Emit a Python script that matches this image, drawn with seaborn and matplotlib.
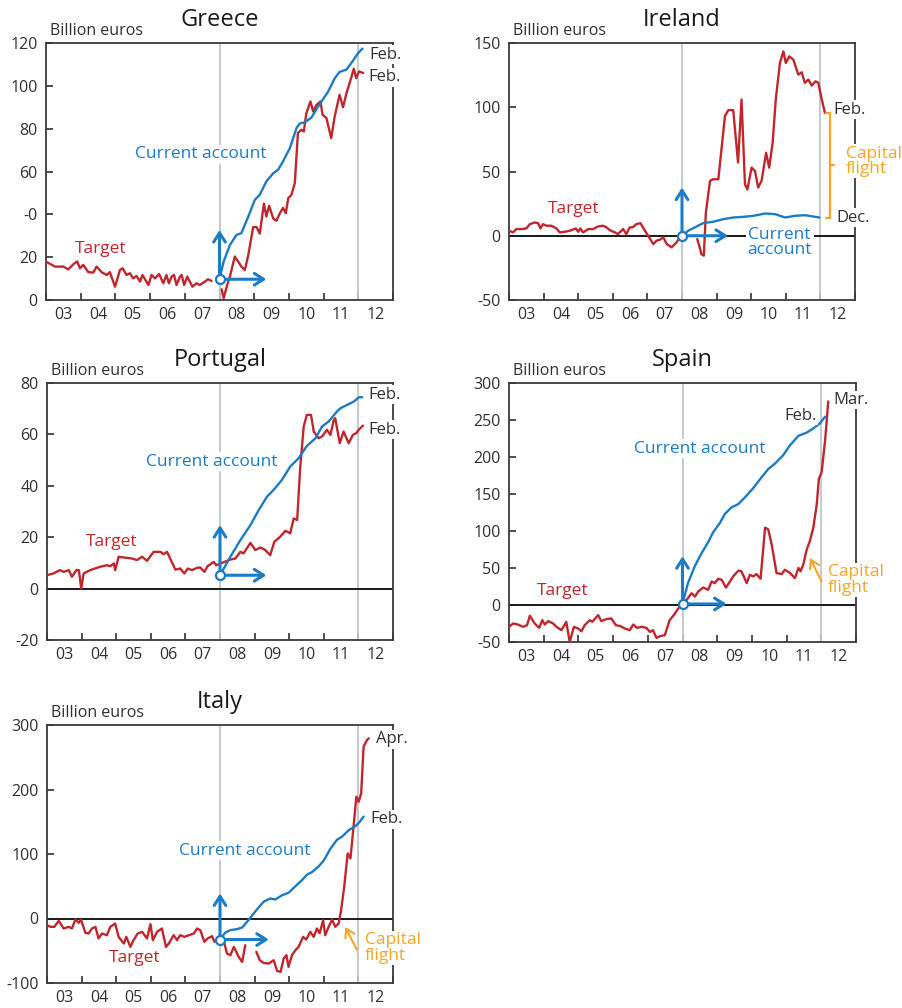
import numpy as np
import matplotlib
matplotlib.use('Agg')
import matplotlib.pyplot as plt
import seaborn as sns

sns.set_theme(style='white')
plt.rcParams['font.family'] = ['Open Sans', 'DejaVu Sans']

RED = '#c0262c'
BLUE = '#1b7bc4'
ORANGE = '#f6a623'
GRAY = '#c2c6cd'
DARK = '#303030'

year_labels = ['03', '04', '05', '06', '07', '08', '09', '10', '11', '12']

# ---------------- Greece ----------------
gr_t1_x = [2003.00, 2003.26, 2003.50, 2003.64, 2003.81, 2003.90, 2003.98, 2004.07, 2004.22, 2004.36,
           2004.46, 2004.60, 2004.75, 2004.84, 2004.99, 2005.13, 2005.21, 2005.32, 2005.42, 2005.51,
           2005.61, 2005.71, 2005.78, 2005.95, 2006.04, 2006.14, 2006.26, 2006.38, 2006.47, 2006.54,
           2006.62, 2006.69, 2006.76, 2006.86, 2006.91, 2006.98, 2007.07, 2007.22, 2007.34, 2007.43,
           2007.58, 2007.67, 2007.77]
gr_t1_y = [17.9, 15.6, 15.6, 14.3, 17.0, 18.0, 14.8, 16.4, 13.0, 12.8, 15.6, 13.0, 11.7, 13.0, 6.2,
           14.0, 14.8, 11.7, 12.5, 10.1, 11.2, 8.6, 11.7, 7.0, 11.7, 10.1, 12.1, 7.8, 11.7, 7.8, 10.9,
           11.7, 7.0, 10.9, 11.7, 7.0, 10.9, 6.2, 7.8, 7.0, 8.6, 9.7, 8.9]
gr_t2_x = [2008.06, 2008.12, 2008.22, 2008.30, 2008.44, 2008.54, 2008.63, 2008.73, 2008.83, 2008.97,
           2009.07, 2009.16, 2009.28, 2009.35, 2009.43, 2009.55, 2009.64, 2009.74, 2009.83, 2009.91,
           2009.98, 2010.07, 2010.17, 2010.26, 2010.36, 2010.43, 2010.50, 2010.62, 2010.70, 2010.79,
           2010.91, 2010.97, 2011.08, 2011.22, 2011.32, 2011.46, 2011.56, 2011.66, 2011.80, 2011.87,
           2011.94, 2012.02, 2012.14]
gr_t2_y = [5.0, 0.8, 7.0, 10.9, 20.3, 17.9, 15.6, 14.0, 21.0, 34.0, 34.0, 31.0, 45.0, 39.0, 44.0,
           38.0, 37.0, 40.5, 43.0, 40.5, 47.5, 49.0, 54.5, 78.0, 79.5, 78.7, 87.0, 92.7, 88.0, 91.0,
           92.7, 86.5, 85.0, 75.6, 85.7, 95.8, 90.0, 96.6, 104.0, 108.0, 103.6, 106.7, 106.0]
gr_ca_x = [2008.0, 2008.12, 2008.30, 2008.49, 2008.63, 2008.83, 2009.02, 2009.16, 2009.35, 2009.55,
           2009.69, 2009.83, 2010.03, 2010.22, 2010.31, 2010.46, 2010.65, 2010.79, 2010.94, 2011.13,
           2011.32, 2011.46, 2011.66, 2011.85, 2011.99, 2012.12]
gr_ca_y = [9.7, 18.0, 25.7, 30.4, 31.2, 39.0, 46.8, 49.1, 55.4, 59.2, 60.8, 64.7, 71.0, 80.3, 82.4,
           83.0, 85.2, 89.0, 92.7, 97.3, 103.5, 106.5, 107.6, 111.8, 115.2, 117.4]
gr_yticks = [0, 20, 40, 60, 80, 100, 120]
gr_yticklabels = ['0', '20', '-0', '60', '80', '100', '120']

# ---------------- Ireland ----------------
ie_t1_x = [2003.00, 2003.12, 2003.21, 2003.36, 2003.50, 2003.60, 2003.74, 2003.84, 2003.91, 2003.98,
           2004.08, 2004.22, 2004.37, 2004.47, 2004.61, 2004.76, 2004.93, 2005.00, 2005.06, 2005.14,
           2005.29, 2005.43, 2005.57, 2005.72, 2005.82, 2005.91, 2006.06, 2006.15, 2006.30, 2006.39,
           2006.49, 2006.57, 2006.68, 2006.80, 2006.90, 2007.02, 2007.17, 2007.26, 2007.36, 2007.46,
           2007.56, 2007.70, 2007.84, 2007.93]
ie_t1_y = [3.9, 2.6, 5.2, 5.2, 5.7, 9.0, 10.3, 9.8, 5.7, 9.0, 7.8, 7.8, 5.7, 2.6, 3.1, 3.9, 5.7, 3.1,
           5.7, 2.6, 5.2, 5.2, 7.2, 7.8, 6.5, 4.4, 2.6, 1.3, 5.2, 1.3, 6.5, 6.5, 9.0, 9.8, 5.2, 0.0,
           -6.5, -3.9, -3.1, -1.3, -6.5, -9.0, -5.2, -1.5]
ie_t2_x = [2008.44, 2008.50, 2008.56, 2008.63, 2008.69, 2008.81, 2008.90, 2009.05, 2009.14, 2009.24,
           2009.34, 2009.48, 2009.62, 2009.72, 2009.82, 2009.89, 2010.01, 2010.11, 2010.20, 2010.30,
           2010.43, 2010.52, 2010.62, 2010.71, 2010.83, 2010.93, 2011.00, 2011.10, 2011.22, 2011.36,
           2011.46, 2011.55, 2011.65, 2011.75, 2011.86, 2011.94, 2012.04, 2012.13]
ie_t2_y = [-2.6, -7.8, -14.2, -15.5, 18.0, 42.7, 44.0, 44.0, 67.0, 93.0, 97.8, 97.8, 57.0, 106.0,
           40.0, 36.0, 53.0, 50.4, 37.5, 42.7, 64.6, 53.0, 72.4, 106.0, 134.5, 143.5, 134.5, 139.6,
           137.0, 125.4, 127.2, 119.0, 121.5, 116.9, 120.2, 119.0, 106.0, 95.7]
ie_ca_x = [2008.0, 2008.18, 2008.37, 2008.61, 2008.90, 2009.19, 2009.48, 2009.77, 2010.06, 2010.40,
           2010.69, 2010.98, 2011.26, 2011.55, 2011.79, 2011.97]
ie_ca_y = [0.0, 3.9, 6.5, 9.8, 10.9, 12.9, 14.2, 14.7, 15.5, 17.3, 16.8, 14.2, 15.5, 16.0, 15.0, 14.2]
ie_yticks = [-50, 0, 50, 100, 150]

# ---------------- Portugal ----------------
pt_t_x = [2003.00, 2003.19, 2003.37, 2003.48, 2003.63, 2003.72, 2003.85, 2003.92, 2003.99, 2004.06,
          2004.25, 2004.54, 2004.73, 2004.83, 2004.93, 2004.97, 2005.07, 2005.22, 2005.46, 2005.60,
          2005.75, 2005.89, 2006.08, 2006.28, 2006.37, 2006.47, 2006.56, 2006.71, 2006.85, 2006.97,
          2007.07, 2007.19, 2007.34, 2007.43, 2007.55, 2007.64, 2007.82, 2007.89, 2008.13, 2008.30,
          2008.44, 2008.59, 2008.68, 2008.88, 2009.02, 2009.17, 2009.31, 2009.45, 2009.57, 2009.74,
          2009.89, 2010.03, 2010.13, 2010.23, 2010.32, 2010.42, 2010.51, 2010.63, 2010.71, 2010.85,
          2010.95, 2011.09, 2011.19, 2011.29, 2011.33, 2011.46, 2011.57, 2011.72, 2011.84, 2011.94,
          2012.01, 2012.13]
pt_t_y = [5.2, 5.9, 7.2, 6.5, 7.2, 4.6, 7.2, 7.2, 0.0, 5.9, 7.2, 8.5, 9.1, 8.7, 9.8, 7.2, 12.4, 12.1,
          11.7, 11.1, 12.4, 10.8, 14.3, 14.3, 13.4, 14.3, 11.7, 7.4, 7.8, 5.9, 7.8, 7.2, 8.1, 8.2, 6.5,
          8.7, 10.4, 9.1, 10.4, 11.3, 11.7, 14.3, 13.7, 17.8, 15.0, 16.0, 15.0, 13.0, 18.2, 20.2, 22.5,
          21.5, 27.3, 26.7, 47.5, 63.1, 67.6, 67.6, 61.1, 58.5, 59.2, 61.8, 59.8, 65.7, 66.3, 56.6,
          61.1, 56.6, 59.8, 60.5, 61.8, 63.4]
pt_ca_x = [2008.0, 2008.30, 2008.59, 2008.88, 2009.12, 2009.36, 2009.55, 2009.79, 2010.03, 2010.27,
           2010.51, 2010.76, 2010.95, 2011.14, 2011.38, 2011.48, 2011.68, 2011.87, 2012.01, 2012.11]
pt_ca_y = [5.2, 12.4, 18.9, 24.7, 30.6, 35.8, 38.4, 42.3, 47.5, 50.7, 55.5, 58.5, 63.1, 65.0, 68.9,
           70.2, 71.5, 72.8, 74.4, 74.5]
pt_yticks = [-20, 0, 20, 40, 60, 80]

# ---------------- Spain ----------------
es_t_x = [2003.00, 2003.12, 2003.26, 2003.40, 2003.52, 2003.60, 2003.74, 2003.87, 2003.96, 2004.03,
          2004.13, 2004.27, 2004.37, 2004.51, 2004.65, 2004.75, 2004.87, 2004.99, 2005.09, 2005.18,
          2005.33, 2005.40, 2005.57, 2005.66, 2005.81, 2005.95, 2006.08, 2006.19, 2006.34, 2006.48,
          2006.58, 2006.69, 2006.82, 2006.96, 2007.06, 2007.15, 2007.25, 2007.37, 2007.49, 2007.63,
          2007.75, 2007.88, 2008.0, 2008.12, 2008.26, 2008.36, 2008.45, 2008.60, 2008.74, 2008.84,
          2008.93, 2009.03, 2009.13, 2009.25, 2009.37, 2009.46, 2009.61, 2009.70, 2009.85, 2009.94,
          2010.04, 2010.13, 2010.25, 2010.38, 2010.47, 2010.57, 2010.71, 2010.86, 2010.95, 2011.10,
          2011.24, 2011.34, 2011.40, 2011.48, 2011.58, 2011.67, 2011.77, 2011.87, 2011.93, 2012.01,
          2012.11, 2012.15, 2012.20]
es_t_y = [-29.5, -25.0, -26.4, -29.5, -27.3, -14.5, -25.0, -30.9, -20.5, -26.4, -21.8, -25.0, -29.5,
          -34.0, -22.7, -50.0, -29.5, -31.8, -35.5, -27.3, -20.5, -22.7, -13.6, -21.8, -19.0, -18.2,
          -27.3, -28.2, -31.8, -34.0, -26.4, -30.9, -29.5, -30.9, -36.4, -34.0, -44.5, -41.8, -40.9,
          -20.5, -13.6, -4.5, 1.4, 6.8, 15.9, 11.4, 18.2, 23.6, 20.5, 31.8, 29.5, 35.5, 34.0, 23.6,
          31.8, 38.6, 46.4, 45.5, 29.5, 40.9, 38.6, 41.8, 35.5, 104.5, 102.3, 81.8, 43.2, 41.8, 47.7,
          43.2, 36.4, 50.0, 45.5, 54.5, 75.0, 86.4, 104.5, 136.4, 170.5, 179.5, 222.7, 245.5, 275.0]
es_ca_x = [2008.0, 2008.16, 2008.36, 2008.55, 2008.74, 2008.88, 2009.08, 2009.22, 2009.41, 2009.61,
           2009.80, 2010.04, 2010.28, 2010.47, 2010.66, 2010.90, 2011.10, 2011.34, 2011.58, 2011.77,
           2011.96, 2012.11]
es_ca_y = [1.4, 30.0, 53.0, 70.0, 85.0, 98.0, 111.0, 123.0, 131.8, 136.4, 145.5, 158.0, 172.7, 183.6,
           190.9, 202.3, 215.9, 228.6, 233.0, 238.6, 245.5, 254.5]
es_yticks = [-50, 0, 50, 100, 150, 200, 250, 300]

# ---------------- Italy ----------------
it_t1_x = [2003.00, 2003.10, 2003.21, 2003.34, 2003.48, 2003.63, 2003.72, 2003.82, 2003.92, 2003.98,
           2004.11, 2004.20, 2004.30, 2004.40, 2004.49, 2004.59, 2004.73, 2004.83, 2004.97, 2005.07,
           2005.22, 2005.29, 2005.41, 2005.50, 2005.62, 2005.75, 2005.89, 2005.99, 2006.06, 2006.18,
           2006.32, 2006.44, 2006.52, 2006.66, 2006.76, 2006.85, 2006.97, 2007.10, 2007.24, 2007.34,
           2007.43, 2007.55, 2007.64, 2007.77, 2007.84]
it_t1_y = [-10.3, -12.9, -12.9, -3.6, -15.5, -12.9, -15.5, -1.6, -6.7, -1.6, -22.2, -23.3, -15.5,
           -12.9, -31.0, -23.3, -25.9, -12.9, -7.8, -28.5, -38.8, -28.5, -44.0, -33.6, -23.3, -20.7,
           -31.0, -8.8, -33.6, -20.7, -15.5, -44.0, -38.8, -25.9, -33.6, -25.9, -28.5, -25.9, -23.3,
           -15.5, -18.1, -36.2, -31.0, -27.4, -36.2]
it_t2_x = [2008.13, 2008.20, 2008.30, 2008.40, 2008.54, 2008.64, 2008.73]
it_t2_y = [-38.8, -54.3, -56.9, -44.0, -59.5, -67.3, -41.4]
it_t3_x = [2009.05, 2009.15, 2009.26, 2009.41, 2009.55, 2009.65, 2009.75, 2009.84, 2009.92, 2009.98,
           2010.08, 2010.18, 2010.27, 2010.40, 2010.49, 2010.61, 2010.71, 2010.80, 2010.88, 2010.98,
           2011.04, 2011.14, 2011.24, 2011.33, 2011.43, 2011.50, 2011.59, 2011.69, 2011.77, 2011.86,
           2011.94, 2012.01, 2012.08, 2012.15, 2012.25, 2012.30]
it_t3_y = [-51.7, -64.7, -68.8, -69.8, -64.7, -81.2, -82.8, -62.1, -56.9, -75.0, -56.9, -49.1, -44.0,
           -28.5, -32.6, -20.7, -28.5, -15.5, -22.8, -2.6, -25.9, -12.9, -1.6, -12.9, -7.8, 12.9, 49.1,
           100.9, 93.1, 142.3, 188.8, 181.0, 194.0, 266.4, 276.8, 279.3]
it_ca_x = [2008.0, 2008.15, 2008.30, 2008.49, 2008.64, 2008.83, 2009.02, 2009.26, 2009.45, 2009.60,
           2009.79, 2009.98, 2010.18, 2010.37, 2010.51, 2010.66, 2010.85, 2011.00, 2011.19, 2011.38,
           2011.53, 2011.72, 2011.91, 2012.04, 2012.15]
it_ca_y = [-32.6, -22.0, -18.0, -16.5, -14.0, -2.0, 11.0, 26.0, 31.0, 29.5, 36.0, 39.8, 50.0, 59.5,
           67.8, 72.0, 80.7, 90.0, 108.0, 122.0, 127.0, 137.0, 143.0, 150.0, 158.0]
it_yticks = [-100, 0, 100, 200, 300]

W, H = 902, 1008
fig = plt.figure(figsize=(W / 100, H / 100), dpi=100)
fig.patch.set_facecolor('white')

BOX = dict(facecolor='white', edgecolor='none', pad=1.0)


def px_rect(l, t, r, b):
    return [l / W, 1 - b / H, (r - l) / W, (b - t) / H]


def make_axes(rect, title, ylim, yticks, yticklabels=None, zero=True):
    ax = fig.add_axes(px_rect(*rect))
    ax.set_xlim(2003, 2013)
    ax.set_ylim(*ylim)
    ax.set_xticks(range(2003, 2014))
    ax.set_xticklabels([])
    ax.set_xticks(np.arange(2003.5, 2013, 1.0), minor=True)
    ax.set_xticklabels(year_labels, minor=True)
    ax.set_yticks(yticks)
    ax.set_yticklabels(yticklabels if yticklabels else [str(v) for v in yticks])
    ax.tick_params(axis='x', which='major', direction='in', length=5, width=1.2, color=DARK,
                   bottom=True, top=False)
    ax.tick_params(axis='x', which='minor', length=0, pad=5, labelsize=11.5, labelcolor=DARK,
                   bottom=True)
    ax.tick_params(axis='y', direction='in', length=5, width=1.2, color=DARK, left=True,
                   pad=6, labelsize=11.5, labelcolor=DARK)
    for s in ax.spines.values():
        s.set_visible(True)
        s.set_color('#3a3a3a')
        s.set_linewidth(1.3)
    ax.axvline(2008, color=GRAY, lw=1.3, zorder=1)
    ax.axvline(2012, color=GRAY, lw=1.3, zorder=1)
    if zero:
        ax.axhline(0, color='#1a1a1a', lw=1.4, zorder=1.5)
    ax.text(0.5, 1.09, title, transform=ax.transAxes, ha='center', va='center', fontsize=17,
            color='#1a1a1a')
    ax.text(0.012, 1.045, 'Billion euros', transform=ax.transAxes, ha='left', va='center',
            fontsize=11.5, color=DARK)
    ax.set_xlabel('')
    ax.set_ylabel('')
    return ax


def lines(ax, target_segments, ca_x, ca_y):
    for xs, ys in target_segments:
        sns.lineplot(x=xs, y=ys, ax=ax, color=RED, lw=1.7, estimator=None, sort=False, zorder=3)
    sns.lineplot(x=ca_x, y=ca_y, ax=ax, color=BLUE, lw=1.7, estimator=None, sort=False, zorder=3)


def origin_arrows(ax, ca_x, ca_y, up_to, right_to):
    x0, y0 = ca_x[0], ca_y[0]
    props = dict(arrowstyle='->,head_length=0.55,head_width=0.35', color=BLUE, lw=2.2,
                 shrinkA=0, shrinkB=0)
    ax.annotate('', xy=(x0, up_to), xytext=(x0, y0), arrowprops=props, zorder=5)
    ax.annotate('', xy=(right_to, y0), xytext=(x0, y0), arrowprops=props, zorder=5)
    ax.plot([x0], [y0], marker='o', ms=6.5, mfc='white', mec=BLUE, mew=1.6, zorder=6)


def label(ax, x, y, s, color, ha='center', size=12.5):
    ax.text(x, y, s, color=color, ha=ha, va='center', fontsize=size, bbox=BOX, zorder=4,
            clip_on=False, linespacing=0.95)


# Greece
ax = make_axes((46, 43, 393, 300), 'Greece', (0, 120), gr_yticks, gr_yticklabels, zero=False)
lines(ax, [(gr_t1_x, gr_t1_y), (gr_t2_x, gr_t2_y)], gr_ca_x, gr_ca_y)
origin_arrows(ax, gr_ca_x, gr_ca_y, 32.7, 2009.35)
label(ax, 2007.47, 68, 'Current account', BLUE)
label(ax, 2004.58, 23.7, 'Target', RED)
label(ax, 2012.33, 114.5, 'Feb.', DARK, ha='left', size=12)
label(ax, 2012.28, 104, 'Feb.', DARK, ha='left', size=12)

# Ireland
ax = make_axes((509, 43, 855, 300), 'Ireland', (-50, 150), ie_yticks)
lines(ax, [(ie_t1_x, ie_t1_y), (ie_t2_x, ie_t2_y)], ie_ca_x, ie_ca_y)
origin_arrows(ax, ie_ca_x, ie_ca_y, 37.5, 2009.33)
label(ax, 2004.87, 20.7, 'Target', RED)
label(ax, 2009.90, -5.2, 'Current\naccount', BLUE, ha='left')
label(ax, 2012.37, 98, 'Feb.', DARK, ha='left', size=12)
label(ax, 2012.47, 14.2, 'Dec.', DARK, ha='left', size=12)
label(ax, 2012.73, 58, 'Capital\nflight', ORANGE, ha='left')
top, bot = ie_t2_y[-1], ie_ca_y[-1]
bx, bl, br = 2012.29, 2012.16, 2012.38
ax.plot([bl, bx, bx, bl], [top, top, bot, bot], color=ORANGE, lw=1.6, clip_on=False, zorder=4,
        solid_joinstyle='miter')
ax.plot([bx, br], [(top + bot) / 2] * 2, color=ORANGE, lw=1.6, clip_on=False, zorder=4)

# Portugal
ax = make_axes((47, 383, 393, 640), 'Portugal', (-20, 80), pt_yticks)
lines(ax, [(pt_t_x, pt_t_y)], pt_ca_x, pt_ca_y)
origin_arrows(ax, pt_ca_x, pt_ca_y, 24.7, 2009.34)
label(ax, 2007.77, 49.4, 'Current account', BLUE)
label(ax, 2004.86, 18.2, 'Target', RED)
label(ax, 2012.30, 75.4, 'Feb.', DARK, ha='left', size=12)
label(ax, 2012.28, 61.8, 'Feb.', DARK, ha='left', size=12)

# Spain
ax = make_axes((509, 383, 856, 642), 'Spain', (-50, 300), es_yticks)
lines(ax, [(es_t_x, es_t_y)], es_ca_x, es_ca_y)
origin_arrows(ax, es_ca_x, es_ca_y, 65.9, 2009.27)
label(ax, 2008.50, 211, 'Current account', BLUE)
label(ax, 2004.56, 19, 'Target', RED)
label(ax, 2011.87, 255.5, 'Feb.', DARK, ha='right', size=12)
label(ax, 2012.35, 277, 'Mar.', DARK, ha='left', size=12)
label(ax, 2012.18, 34, 'Capital\nflight', ORANGE, ha='left')
ax.annotate('', xy=(2011.67, 63.6), xytext=(2012.01, 31.8),
            arrowprops=dict(arrowstyle='->,head_length=0.5,head_width=0.3', color=ORANGE, lw=1.5,
                            shrinkA=0, shrinkB=0), zorder=5)

# Italy
ax = make_axes((47, 725, 393, 983), 'Italy', (-100, 300), it_yticks)
lines(ax, [(it_t1_x, it_t1_y), (it_t2_x, it_t2_y), (it_t3_x, it_t3_y)], it_ca_x, it_ca_y)
origin_arrows(ax, it_ca_x, it_ca_y, 38.8, 2009.41)
label(ax, 2008.71, 105, 'Current account', BLUE)
label(ax, 2005.53, -60.5, 'Target', RED)
label(ax, 2012.52, 277.8, 'Apr.', DARK, ha='left', size=12)
label(ax, 2012.35, 153.6, 'Feb.', DARK, ha='left', size=12)
label(ax, 2012.18, -46, 'Capital\nflight', ORANGE, ha='left')
ax.annotate('', xy=(2011.62, -13), xytext=(2011.96, -49),
            arrowprops=dict(arrowstyle='->,head_length=0.5,head_width=0.3', color=ORANGE, lw=1.5,
                            shrinkA=0, shrinkB=0), zorder=5)

fig.savefig('out.png', dpi=100, facecolor='white')
